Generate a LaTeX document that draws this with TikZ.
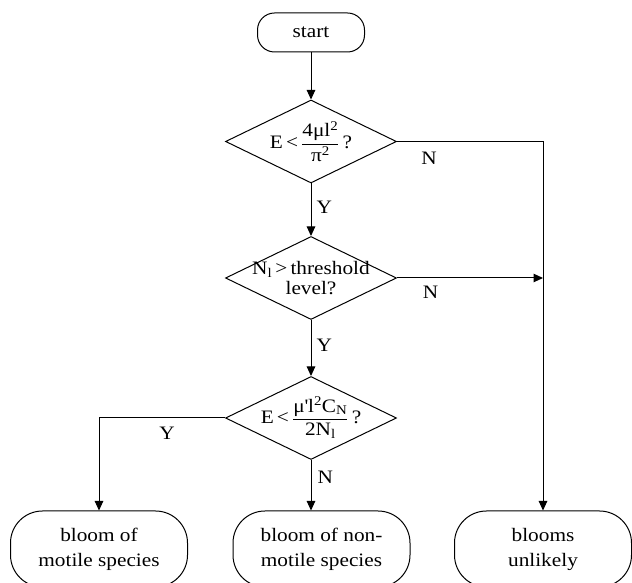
\documentclass[tikz,border=0pt]{standalone}
\usepackage{amsmath}
\usepackage{fontspec}
\setmainfont{Liberation Serif}[FakeStretch=1.12]
\usepackage{tikz}
\usetikzlibrary{shapes.geometric,arrows.meta}

\begin{document}
\begin{tikzpicture}[
  x=1pt, y=1pt, line width=1pt,
  every node/.style={font=\fontsize{19}{25}\selectfont},
  term/.style ={draw, rectangle, rounded corners=17pt, minimum width=107pt, minimum height=39pt},
  leaf/.style ={draw, rectangle, rounded corners=32pt, minimum width=177pt, minimum height=76pt, align=center},
  query/.style={draw, diamond, aspect=2, inner sep=-9pt, minimum width=171pt, minimum height=83pt, align=center},
  lbl/.style  ={inner sep=1pt},
  arrow/.style={-{Triangle[length=9.5pt,width=8.5pt]}}]
\useasboundingbox (0,0) rectangle (632,583);
\node[term] (start) at (311,550.5) {start};
\node[query] (qE) at (311,441.5) {E\,<\,\ensuremath{\dfrac{\text{4μl\textsuperscript{2}}}{\text{π\textsuperscript{2}}}}\,?};
\node[query, font=\fontsize{19}{20}\selectfont] (qN) at (311,305) {N\textsubscript{l}\,>\,threshold\\level?};
\node[query] (qC) at (311,165) {E\,<\,\ensuremath{\dfrac{\text{μ\textquotesingle l\textsuperscript{2}C\textsubscript{N}}}{\text{2N\textsubscript{l}}}}\,?};
\node[leaf] (motile)    at (99,34)    {bloom of\\motile species};
\node[leaf] (nonmotile) at (321.5,34) {bloom of non-\\motile species};
\node[leaf] (unlikely)  at (543,34)   {blooms\\unlikely};
% main column
\draw[arrow] (start) -- (qE);
\draw[arrow] (qE) -- node[lbl, right=4pt, pos=0.46]{Y} (qN);
\draw[arrow] (qN) -- node[lbl, right=4pt, pos=0.45]{Y} (qC);
% no branches
\draw[arrow] (qE.east) -| node[lbl, below=9.5pt, pos=0.11]{N} (unlikely.north);
\draw[arrow] (qN.east) -- node[lbl, below=7pt, pos=0.23]{N} (qN.east -| unlikely.north);
\draw[arrow] (qC.south) -- node[lbl, right=5pt, pos=0.34]{N} (qC.south |- nonmotile.north);
\draw[arrow] (qC.west) -| node[lbl, below=8pt, pos=0.23]{Y} (motile.north);
\end{tikzpicture}
\end{document}
